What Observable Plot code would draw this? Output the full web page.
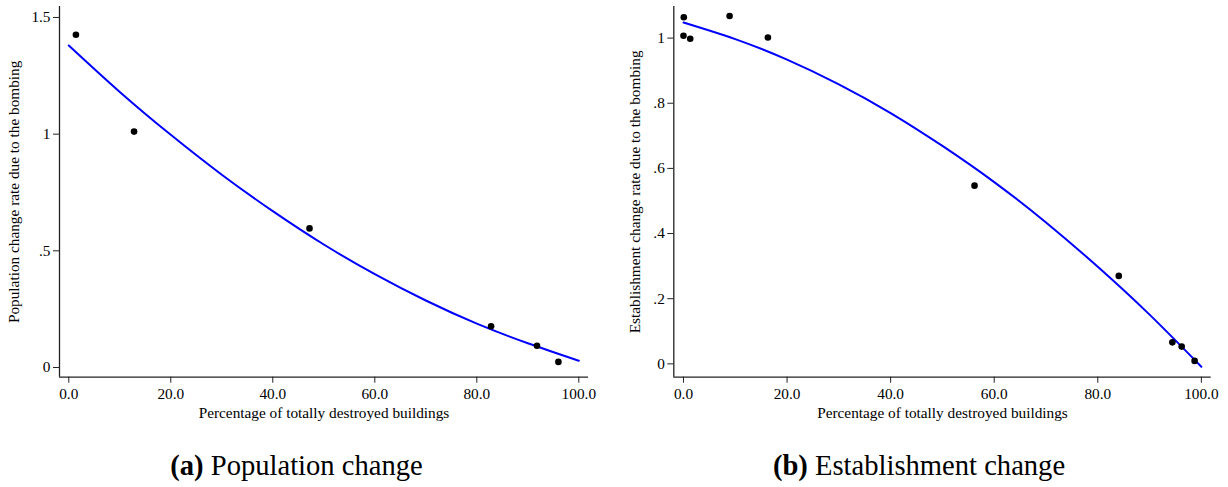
<!DOCTYPE html>
<html>
<head>
<meta charset="utf-8">
<script src="https://cdn.jsdelivr.net/npm/d3@7"></script>
<script src="https://cdn.jsdelivr.net/npm/@observablehq/plot@0.6"></script>
<style>
  html, body { margin: 0; padding: 0; background: #fff; }
  #wrap { position: relative; width: 1228px; height: 487px; overflow: hidden; font-family: "Liberation Serif", "Times New Roman", serif; }
  .panel { position: absolute; top: 0; }
  #wrap svg, #wrap svg text { font-family: "Liberation Serif", "Times New Roman", serif !important; font-size: 15px; }
  #wrap svg g[aria-label$="label"] text { font-size: 15.3px; }
  .cap { position: absolute; top: 452px; font-size: 28.6px; line-height: 1; white-space: nowrap; transform: translateX(-50%); color: #000; }
</style>
</head>
<body>
<div id="wrap">
  <div id="pa" class="panel" style="left:0px"></div>
  <div id="pb" class="panel" style="left:614px"></div>
  <div class="cap" style="left:296.5px"><b>(a)</b> Population change</div>
  <div class="cap" style="left:919px"><b>(b)</b> Establishment change</div>
</div>
<script>
// ---- Panel (a): population change ----
const popX = [1.4, 12.8, 47.2, 82.8, 91.8, 96.0];
const popY = [1.426, 1.011, 0.596, 0.177, 0.093, 0.024];
const popFitX = [0, 10, 20, 30, 40, 50, 60, 70, 80, 90, 100];
const popFitY = [1.380, 1.181, 0.997, 0.826, 0.670, 0.527, 0.400, 0.287, 0.188, 0.104, 0.029];
const popYTicks = [0, 0.5, 1, 1.5];
const popYTickLabels = ["0", ".5", "1", "1.5"];

// ---- Panel (b): establishment change ----
const estX = [0.06, 0.0, 1.3, 8.9, 16.3, 56.2, 84.05, 94.4, 96.2, 98.7];
const estY = [1.064, 1.007, 0.998, 1.068, 1.002, 0.547, 0.270, 0.066, 0.053, 0.009];
const estFitX = [0, 10, 20, 30, 40, 50, 60, 70, 80, 90, 100];
const estFitY = [1.048, 0.997, 0.934, 0.858, 0.770, 0.669, 0.558, 0.434, 0.298, 0.151, -0.009];
const estYTicks = [0, 0.2, 0.4, 0.6, 0.8, 1];
const estYTickLabels = ["0", ".2", ".4", ".6", ".8", "1"];

const xTicks = [0, 20, 40, 60, 80, 100];
const xTickLabels = ["0.0", "20.0", "40.0", "60.0", "80.0", "100.0"];
const xTitle = "Percentage of totally destroyed buildings";

function panel({px, py, fx, fy, yTicks, yTickLabels, yTitle, xDomain, yDomain, marginLeft, marginRight, yLabelOffset}) {
  const pts = px.map((x, i) => ({x, y: py[i]}));
  const fit = fx.map((x, i) => ({x, y: fy[i]}));
  return Plot.plot({
    width: 614,
    height: 430,
    marginTop: 6,
    marginBottom: 53.3,
    marginLeft,
    marginRight,
    style: {fontFamily: "'Liberation Serif', 'Times New Roman', serif", fontSize: "15px", color: "#000", background: "#fff"},
    x: {domain: xDomain},
    y: {domain: yDomain},
    marks: [
      Plot.ruleX([xDomain[0]], {stroke: "#222", strokeWidth: 1.3}),
      Plot.ruleY([yDomain[0]], {stroke: "#222", strokeWidth: 1.3}),
      Plot.axisY({ticks: yTicks, tickFormat: (d) => yTickLabels[yTicks.indexOf(d)], tickSize: 6, tickPadding: 3, stroke: "#222",
        label: yTitle, labelAnchor: "center", labelOffset: yLabelOffset, labelArrow: "none", fontSize: 15}),
      Plot.axisX({ticks: xTicks, tickFormat: (d) => xTickLabels[xTicks.indexOf(d)], tickSize: 6, tickPadding: 4.5, stroke: "#222",
        label: xTitle, labelAnchor: "center", labelOffset: 40.5, labelArrow: "none", fontSize: 15}),
      Plot.line(fit, {x: "x", y: "y", stroke: "#0000ff", strokeWidth: 2, curve: "natural"}),
      Plot.dot(pts, {x: "x", y: "y", r: 3.3, fill: "#000", stroke: "none"})
    ]
  });
}

document.getElementById("pa").append(panel({
  px: popX, py: popY, fx: popFitX, fy: popFitY,
  yTicks: popYTicks, yTickLabels: popYTickLabels,
  yTitle: "Population change rate due to the bombing",
  xDomain: [-1.82, 101.9], yDomain: [-0.0416, 1.547],
  marginLeft: 59, marginRight: 26, yLabelOffset: 51
}));
document.getElementById("pb").append(panel({
  px: estX, py: estY, fx: estFitX, fy: estFitY,
  yTicks: estYTicks, yTickLabels: estYTickLabels,
  yTitle: "Establishment change rate due to the bombing",
  xDomain: [-1.87, 101.9], yDomain: [-0.041, 1.097],
  marginLeft: 59.3, marginRight: 17.3, yLabelOffset: 45
}));
</script>
</body>
</html>
